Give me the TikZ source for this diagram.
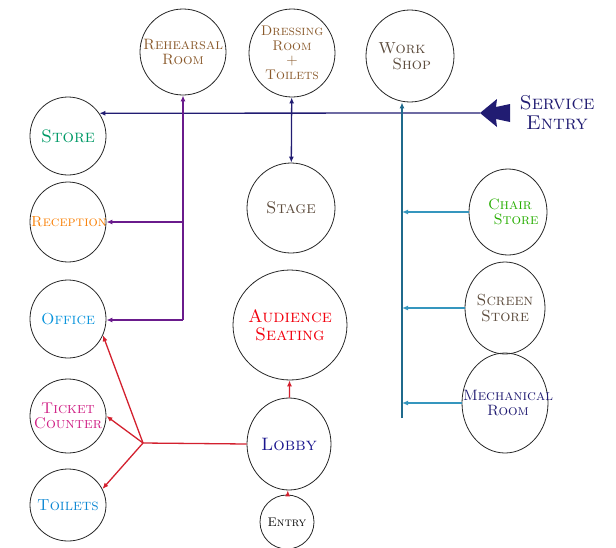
\documentclass[tikz,border=0pt]{standalone}
\usetikzlibrary{shapes,arrows.meta}

\definecolor{navy}{HTML}{211C72}
\definecolor{plum}{HTML}{6A1B8C}
\definecolor{deepteal}{HTML}{1F6A8C}
\definecolor{lightteal}{HTML}{3596BE}
\definecolor{redline}{HTML}{D3202E}
\definecolor{brownink}{HTML}{8A5A2C}
\definecolor{darkink}{HTML}{5C4B3C}

\begin{document}
\begin{tikzpicture}[x=1pt,y=-1pt]
    \tikzstyle{room}=[ellipse,draw=black!85,line width=0.8pt,inner sep=0pt]
    \tikzstyle{lab}=[align=center,font=\fontsize{#1}{#1}\selectfont\scshape]
    \tikzstyle{link}=[line width=1.3pt,-{Latex[length=6pt,width=5pt]}]
    \useasboundingbox (0,0) rectangle (616,547);

    % top row
    \node[room,minimum width=86,minimum height=86] (rehearsal) at (183,52)
        [label={[lab=15,text=brownink]center:Rehearsal\\Room}] {};
    \node[room,minimum width=86,minimum height=88] (dressing) at (292,53)
        [label={[lab=14,text=brownink,font=\fontsize{14}{14.5}\selectfont\scshape]center:Dressing\\Room\\+\\Toilets}] {};
    \node[room,minimum width=88,minimum height=92] (workshop) at (410,56)
        [label={[lab=16,text=darkink,xshift=-8]center:Work\\\hspace{1.2em}Shop}] {};

    % left column
    \node[room,minimum width=76,minimum height=78] (store) at (68,136)
        [label={[lab=18,text=teal!80!green]center:Store}] {};
    \node[room,minimum width=76,minimum height=80] (reception) at (68,222)
        [label={[lab=14.5,text=orange!90!brown,xshift=1]center:Reception}] {};
    \node[room,minimum width=76,minimum height=78] (office) at (68,319)
        [label={[lab=16,text=cyan!80!blue]center:Office}] {};
    \node[room,minimum width=76,minimum height=74] (ticket) at (68,416)
        [label={[lab=15.5,text=magenta!70!violet]center:Ticket\\Counter}] {};
    \node[room,minimum width=76,minimum height=72] (toilets) at (68,505)
        [label={[lab=16,text=cyan!70!blue]center:Toilets}] {};

    % middle column
    \node[room,minimum width=88,minimum height=90] (stage) at (291,208)
        [label={[lab=17,text=darkink]center:Stage}] {};
    \node[room,minimum width=114,minimum height=110] (seating) at (290,325)
        [label={[lab=18,text=red!80!purple]center:Audience\\Seating}] {};
    \node[room,minimum width=84,minimum height=92] (lobby) at (289,444)
        [label={[lab=18,text=navy!80!blue]center:Lobby}] {};
    \node[room,minimum width=54,minimum height=54] (entry) at (287,522)
        [label={[lab=12.5]center:Entry}] {};

    % right column
    \node[room,minimum width=78,minimum height=86] (chair) at (508,212)
        [label={[lab=15,text=green!60!black!80!lime,xshift=2]center:Chair\\\hspace{0.8em}Store}] {};
    \node[room,minimum width=80,minimum height=92] (screen) at (505,308)
        [label={[lab=16,text=darkink]center:Screen\\Store}] {};
    \node[room,minimum width=86,minimum height=100] (mech) at (505,403)
        [label={[lab=15,text=navy,xshift=3]center:Mechanical\\Room}] {};

    % service entry
    \coordinate (svc) at (480,113);
    \node[align=right,text=navy,lab=20] (svclab) at (557,113) {Service\\Entry};
    \fill[navy] (svc) -- ++(17,-14) -- ++(-1,8) -- ++(14,-3) -- ++(0,18)
        -- ++(-14,-3) -- ++(1,8) -- cycle;
    \draw[link,navy] (svc) -- (store.36);
    \draw[link,navy,{Latex[length=6pt,width=5pt]}-{Latex[length=6pt,width=5pt]}] (dressing) -- (stage);

    % rehearsal branch
    \coordinate (pbot) at (183,320);
    \draw[link,plum] (pbot) -- (rehearsal);
    \draw[link,plum] (pbot) -- (office.east |- pbot);
    \draw[link,plum] (rehearsal |- reception) -- (reception.east);

    % workshop branch
    \coordinate (wbot) at (402,418);
    \draw[link,deepteal] (wbot) -- (wbot |- workshop.south);
    \draw[link,lightteal] (chair.west) -- (wbot |- chair.west);
    \draw[link,lightteal] (screen.west) -- (wbot |- screen.west);
    \draw[link,lightteal] (mech.west) -- (wbot |- mech.west);

    % lobby branch
    \coordinate (rjoin) at (143,443);
    \draw[line width=1.3pt,redline] (lobby.west) -- (rjoin);
    \draw[link,redline] (rjoin) -- (office.-25);
    \draw[link,redline] (rjoin) -- (ticket.east);
    \draw[link,redline] (rjoin) -- (toilets.25);
    \draw[link,redline] (lobby) -- (seating);
    \draw[link,redline] (entry) -- (lobby);
\end{tikzpicture}
\end{document}
